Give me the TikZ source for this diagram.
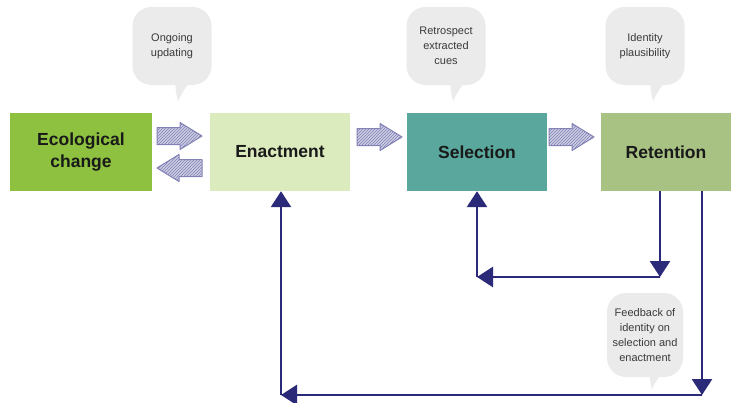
\documentclass[tikz,border=0pt]{standalone}
\usepackage{fontspec}
\setmainfont{Liberation Sans}
\usetikzlibrary{arrows.meta,patterns}
\definecolor{ecoc}{HTML}{8DC13F}
\definecolor{enac}{HTML}{DCEBBE}
\definecolor{selc}{HTML}{5AA89D}
\definecolor{retc}{HTML}{A8C283}
\definecolor{navyc}{HTML}{2B2A78}
\definecolor{bubc}{HTML}{EBEBEB}
\definecolor{bubtext}{HTML}{3A3A3A}
\definecolor{hatchc}{HTML}{8282B6}
\definecolor{hatchbg}{HTML}{CDCDE3}
\begin{document}
\begin{tikzpicture}[x=1pt,y=-1pt,
  box/.style={rectangle,inner sep=0pt,minimum height=78pt,align=center,
    font=\fontsize{17.5}{22}\selectfont\bfseries,text=black!90},
  bubble/.style={rectangle,rounded corners=19pt,fill=bubc,inner sep=0pt,
    minimum width=79pt,minimum height=78pt,align=center,text=bubtext,
    font=\fontsize{11}{15}\selectfont},
  tail/.pic={\fill[bubc] (-3,-22) .. controls (-2,-8) .. (0,0) .. controls (4,-8) and (9,-16) .. (14,-22) -- cycle;},
  barrow/.pic={\fill[hatchbg] (0,-8.5) -- (23,-8.5) -- (23,-13.5) -- (45,0) -- (23,13.5) -- (23,8.5) -- (0,8.5) -- cycle;
    \fill[pattern=north east lines,pattern color=hatchc] (0,-8.5) -- (23,-8.5) -- (23,-13.5) -- (45,0) -- (23,13.5) -- (23,8.5) -- (0,8.5) -- cycle;
    \draw[hatchc,line width=1pt,line join=round] (0,-8.5) -- (23,-8.5) -- (23,-13.5) -- (45,0) -- (23,13.5) -- (23,8.5) -- (0,8.5) -- cycle;},
  fb/.style={navyc,line width=2.7pt,-{Triangle[width=20pt,length=16pt]}}
]
\useasboundingbox (0,0) rectangle (731,402);
\fill[white] (0,0) rectangle (731,402);

% boxes
\node[box,fill=ecoc,minimum width=142pt] (eco) at (81,152) {Ecological\\change};
\node[box,fill=enac,minimum width=140pt] (ena) at (280,152) {Enactment};
\node[box,fill=selc,minimum width=140pt] (sel) at (477,152) {Selection};
\node[box,fill=retc,minimum width=130pt] (ret) at (666,152) {Retention};

% block arrows
\pic at (157,136) {barrow};
\pic[xscale=-1] at (202,168) {barrow};
\pic at (357,137) {barrow};
\pic at (549,137) {barrow};

% bubbles
\node[bubble] (b1) at (172,46) {Ongoing\\updating};
\pic at (178,101) {tail};
\node[bubble] (b2) at (446,46) {Retrospect\\extracted\\cues};
\pic at (453,101) {tail};
\node[bubble] (b3) at (645,46) {Identity\\plausibility};
\pic at (653,101) {tail};
\node[bubble,minimum width=76pt,minimum height=84pt] (b4) at (645,335) {Feedback of\\identity on\\selection and\\enactment};
\pic at (652,389) {tail};

% feedback connectors
\coordinate (c1) at (660,277);
\coordinate (c2) at (477,277);
\coordinate (c3) at (702,395);
\coordinate (c4) at (281,395);
\draw[fb] (ret.south -| c1) -- (c1);
\draw[fb] (c1) -- (c2);
\draw[fb] (c2) -- (sel.south -| c2);
\draw[fb] (ret.south -| c3) -- (c3);
\draw[fb] (c3) -- (c4);
\draw[fb] (c4) -- (ena.south -| c4);
\end{tikzpicture}
\end{document}
